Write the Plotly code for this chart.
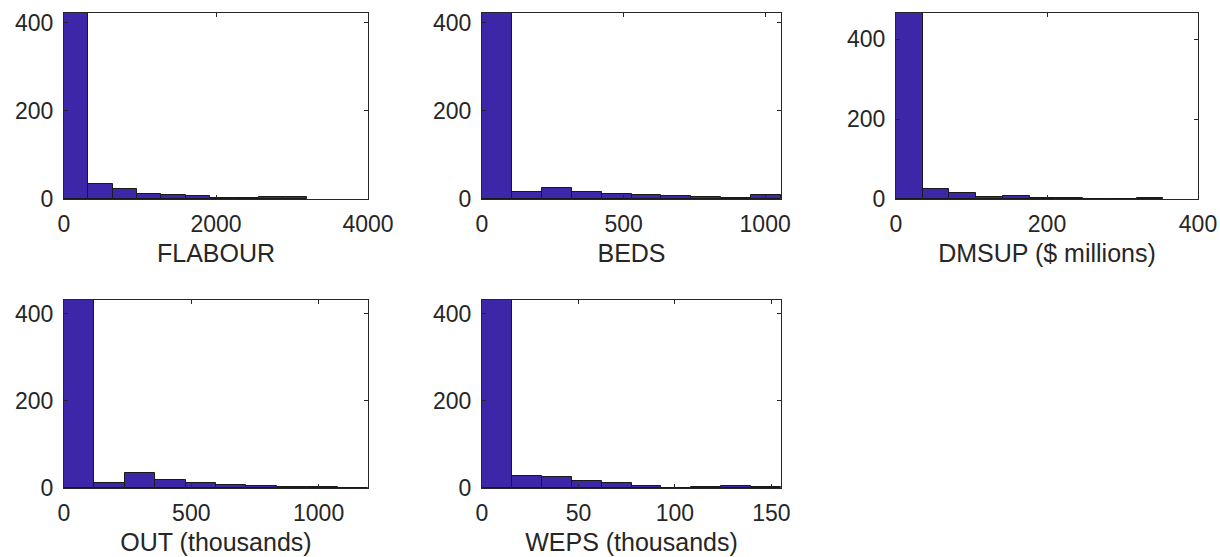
import plotly.graph_objects as go

# ---- data ----
titles = ["FLABOUR", "BEDS", "DMSUP ($ millions)", "OUT (thousands)", "WEPS (thousands)"]

flabour_counts = [422, 33, 23, 11, 9, 7, 2, 3, 5, 5]
beds_counts = [422, 17, 26, 15, 11, 10, 7, 4, 2, 10]
dmsup_counts = [466, 24, 16, 6, 7, 3, 2, 1, 1, 2]
out_counts = [431, 12, 34, 18, 12, 6, 4, 2, 3, 1]
weps_counts = [431, 27, 25, 15, 11, 5, 1, 2, 5, 3]

bin_starts = [0, 0, 0, 0, 0]
bin_widths = [320, 105.6, 35.4, 119.4, 15.5]
x_limits = [[0, 4000], [0, 1056], [0, 400], [0, 1194], [0, 155]]
x_ticks = [[0, 2000, 4000], [0, 500, 1000], [0, 200, 400], [0, 500, 1000], [0, 50, 100, 150]]
y_ticks = [0, 200, 400]

all_counts = [flabour_counts, beds_counts, dmsup_counts, out_counts, weps_counts]

# ---- layout geometry ----
W, H = 1220, 557
col_px = [(64, 368), (482, 781), (896, 1198)]
row_px = [(13, 199), (300, 488)]
cells = [(0, 0), (0, 1), (0, 2), (1, 0), (1, 1)]

BAR = "#3D26A8"
AX = "#262626"
FONT = "Liberation Sans, Arial, sans-serif"
TICK_SIZE = 23
TITLE_SIZE = 25

fig = go.Figure()
layout = dict(
    width=W, height=H, margin=dict(l=0, r=0, t=0, b=0, autoexpand=False),
    paper_bgcolor="white", plot_bgcolor="white", showlegend=False,
    font=dict(family=FONT, color=AX, size=TICK_SIZE),
)

for i, counts in enumerate(all_counts):
    n = i + 1
    xa = "x" if n == 1 else f"x{n}"
    ya = "y" if n == 1 else f"y{n}"
    w = bin_widths[i]
    centers = [bin_starts[i] + w * (k + 0.5) for k in range(len(counts))]
    fig.add_trace(go.Bar(
        x=centers, y=counts, width=[w] * len(counts),
        marker=dict(color=BAR, line=dict(color="#1a1a1a", width=1)),
        xaxis=xa, yaxis=ya, hoverinfo="x+y",
    ))
    r, c = cells[i]
    x0, x1 = col_px[c]
    y0, y1 = row_px[r]
    xkey = "xaxis" if n == 1 else f"xaxis{n}"
    ykey = "yaxis" if n == 1 else f"yaxis{n}"
    layout[xkey] = dict(
        domain=[x0 / W, x1 / W], anchor=ya, range=x_limits[i], automargin=False,
        tickmode="array", tickvals=x_ticks[i], ticktext=[str(t) for t in x_ticks[i]],
        ticks="inside", ticklen=4, tickcolor=AX, showline=True, linecolor=AX,
        linewidth=1, mirror="ticks", showgrid=False, zeroline=False,
        tickfont=dict(size=TICK_SIZE, color=AX), ticklabelstandoff=4,
        title=dict(text=titles[i], font=dict(size=TITLE_SIZE, color=AX), standoff=8),
    )
    layout[ykey] = dict(
        domain=[1 - y1 / H, 1 - y0 / H], anchor=xa, range=[0, max(counts)], automargin=False,
        tickmode="array", tickvals=y_ticks, ticktext=[str(t) for t in y_ticks],
        ticks="inside", ticklen=4, tickcolor=AX, showline=True, linecolor=AX,
        linewidth=1, mirror="ticks", showgrid=False, zeroline=False,
        tickfont=dict(size=TICK_SIZE, color=AX), ticklabelstandoff=5,
    )

layout["bargap"] = 0
fig.update_layout(**layout)
fig.write_html(
    "out.html",
    config={"displayModeBar": False},
    post_script="document.body.style.margin='0';document.body.style.overflow='hidden';",
)
